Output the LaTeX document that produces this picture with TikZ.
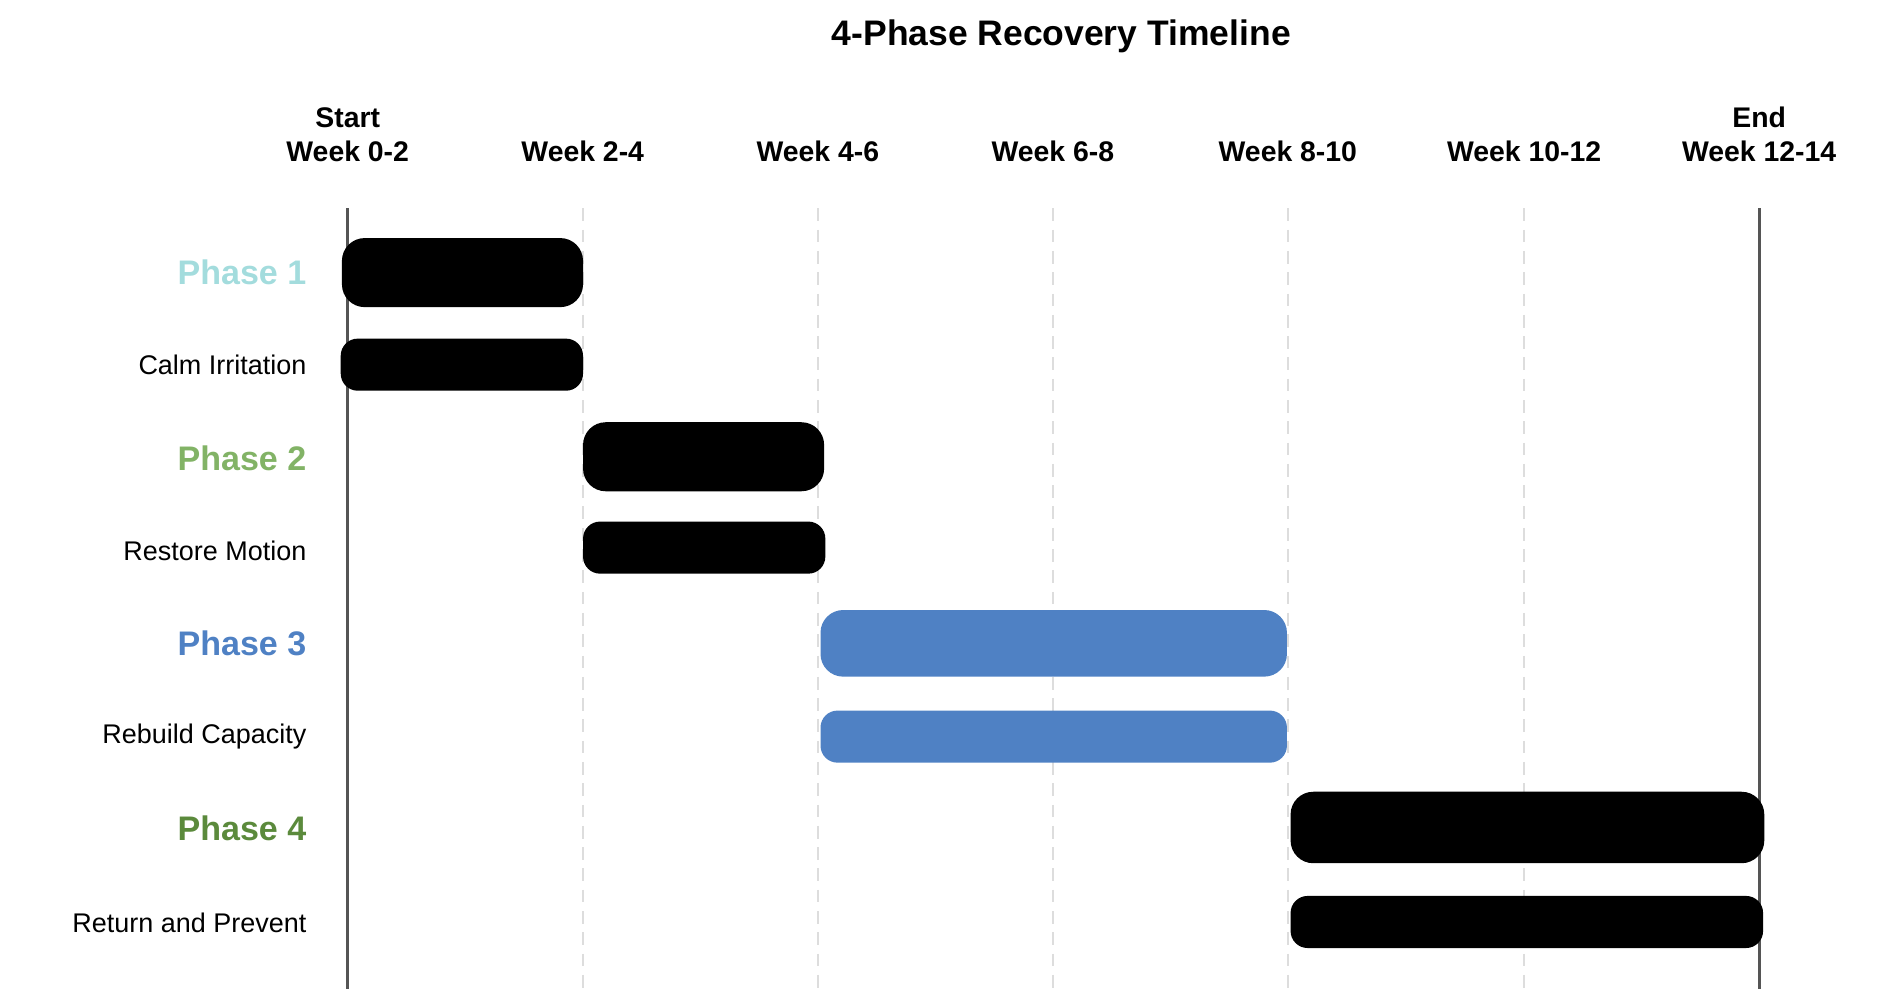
\documentclass[tikz,border=0pt]{standalone}
\usepackage{fontspec}
\setmainfont{Liberation Sans}
\usepackage{xcolor}
\usetikzlibrary{positioning}
\definecolor{phaseA}{HTML}{A3DCDD}
\definecolor{phaseB}{HTML}{82B366}
\definecolor{phaseC}{HTML}{4F81C4}
\definecolor{phaseD}{HTML}{5B8A3C}
\definecolor{gridgray}{HTML}{DDDDDD}
\definecolor{axisgray}{HTML}{555555}

\begin{document}
\begin{tikzpicture}[x=0.03cm, y=-0.03cm,
    head/.style={font=\fontsize{20}{24}\selectfont\bfseries, align=center, anchor=base},
    phase/.style={font=\fontsize{24}{28}\selectfont\bfseries, anchor=east},
    task/.style={font=\fontsize{19}{23}\selectfont, anchor=east},
    bigbar/.style={rounded corners=16pt, minimum height=57*0.03cm, inner sep=0pt, anchor=west},
    smallbar/.style={rounded corners=12pt, minimum height=43*0.03cm, inner sep=0pt, anchor=west}]
    \useasboundingbox (0,0) rectangle (1560,816);
    \node (title) [font=\fontsize{25}{30}\selectfont\bfseries] at (876,30) {4-Phase Recovery Timeline};
    % week headers
    \node (w0) [head] at (287,133) {Start\\Week 0-2};
    \node (w1) [head] at (481,133) {Week 2-4};
    \node (w2) [head] at (675,133) {Week 4-6};
    \node (w3) [head] at (869,133) {Week 6-8};
    \node (w4) [head] at (1063,133) {Week 8-10};
    \node (w5) [head] at (1258,133) {Week 10-12};
    \node (w6) [head] at (1452,133) {End\\Week 12-14};
    % grid
    \foreach \x in {481,675,869,1063,1258}
        \draw[gridgray, line width=1.5pt, dash pattern=on 9pt off 6pt] (\x,172) -- (\x,816);
    \draw[axisgray, line width=2pt] (287,172) -- (287,816);
    \draw[axisgray, line width=2pt] (1452,172) -- (1452,816);
    % rows
    \node (p1) [phase, text=phaseA] at (257,225) {Phase 1};
    \node (t1) [task] at (257,301) {Calm Irritation};
    \node (p2) [phase, text=phaseB] at (257,378) {Phase 2};
    \node (t2) [task] at (257,455) {Restore Motion};
    \node (p3) [phase, text=phaseC] at (257,531) {Phase 3};
    \node (t3) [task] at (257,608) {Rebuild Capacity};
    \node (p4) [phase, text=phaseD] at (257,684) {Phase 4};
    \node (t4) [task] at (257,762) {Return and Prevent};
    % bars
    \node (b1) [bigbar, fill=black, minimum width=199*0.03cm] at (282,225) {};
    \node (c1) [smallbar, fill=black, minimum width=200*0.03cm] at (281,301) {};
    \node (b2) [bigbar, fill=black, minimum width=199*0.03cm] at (481,377) {};
    \node (c2) [smallbar, fill=black, minimum width=200*0.03cm] at (481,452) {};
    \node (b3) [bigbar, fill=phaseC, minimum width=385*0.03cm, minimum height=55*0.03cm] at (677,531) {};
    \node (c3) [smallbar, fill=phaseC, minimum width=385*0.03cm] at (677,608) {};
    \node (b4) [bigbar, fill=black, minimum width=391*0.03cm, minimum height=59*0.03cm] at (1065,683) {};
    \node (c4) [smallbar, fill=black, minimum width=390*0.03cm] at (1065,761) {};
\end{tikzpicture}
\end{document}
